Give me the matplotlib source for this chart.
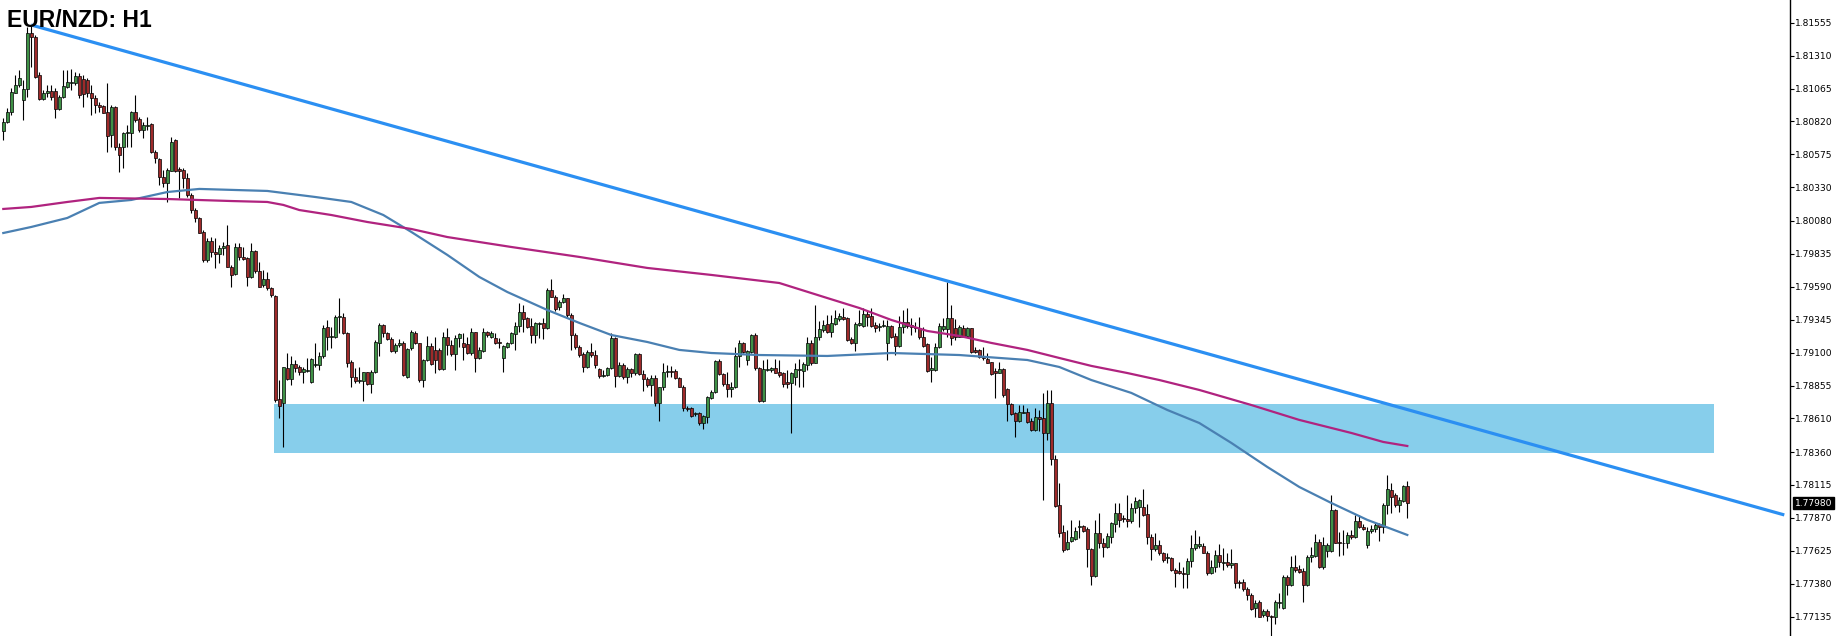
import numpy as np
import matplotlib
matplotlib.use("Agg")
from matplotlib import pyplot as plt
from matplotlib.patches import Rectangle
import matplotlib.transforms as mtransforms

# prices are stored in pips above 1.7700 (1 pip = 0.0001)
BASE = 1.7700
PIP = 0.0001

open_pips = [
    375.2, 381.9, 389.3, 403.5, 409.2, 398.0, 405.9, 447.6, 445.1, 416.6,
    398.7, 403.0, 404.9, 404.9, 391.1, 400.0, 407.9, 410.9, 410.9, 415.9,
    413.4, 412.9, 403.0, 399.2, 394.3, 393.5, 389.3, 372.0, 393.0, 363.3,
    362.8, 373.2, 373.7, 389.3, 383.6, 375.7, 378.7, 379.9, 359.6, 353.9,
    341.0, 336.0, 345.4, 368.2, 346.4, 345.9, 339.7, 327.3, 316.2, 310.0,
    300.1, 279.0, 293.1, 285.2, 283.4, 287.7, 290.1, 274.0, 268.6, 288.4,
    281.0, 280.2, 266.1, 285.9, 271.0, 260.1, 264.6, 257.9, 252.2, 175.3,
    172.3, 198.4, 190.2, 201.4, 199.1, 195.2, 196.6, 188.0, 200.6, 200.9,
    207.1, 228.9, 221.9, 221.9, 236.3, 236.8, 224.9, 203.3, 192.2, 189.0,
    189.2, 195.4, 186.5, 195.2, 217.5, 230.6, 224.4, 220.0, 211.5, 215.5,
    217.0, 192.2, 213.2, 224.9, 217.0, 189.7, 204.6, 215.0, 212.0, 212.0,
    197.6, 221.9, 215.7, 209.0, 221.2, 217.0, 216.5, 210.0, 225.1, 205.8,
    211.5, 225.6, 221.4, 221.2, 217.7, 205.8, 214.5, 217.0, 223.9, 229.9,
    240.5, 235.6, 229.9, 223.2, 231.3, 231.8, 228.1, 256.6, 251.7, 243.7,
    248.0, 250.4, 238.0, 223.2, 214.5, 209.0, 199.6, 210.8, 208.3, 197.6,
    192.7, 193.4, 198.4, 220.7, 192.9, 200.8, 191.7, 197.6, 195.1, 209.0,
    194.1, 190.2, 186.0, 190.9, 172.8, 184.2, 195.9, 196.6, 196.6, 190.9,
    184.7, 168.6, 168.6, 164.4, 164.9, 157.4, 162.4, 176.0, 181.0, 204.1,
    194.1, 186.5, 182.7, 184.2, 207.5, 217.0, 204.6, 210.8, 223.2, 198.4,
    174.1, 197.1, 197.1, 198.4, 195.9, 194.6, 188.4, 187.2, 192.2, 197.1,
    196.6, 200.8, 217.5, 202.6, 221.4, 226.9, 231.3, 225.6, 231.3, 234.8,
    236.8, 235.6, 219.9, 217.5, 230.6, 229.9, 238.8, 237.3, 230.6, 229.4,
    229.9, 217.5, 229.9, 222.4, 215.0, 228.9, 233.1, 230.6, 229.4, 228.1,
    221.9, 216.5, 197.1, 197.1, 214.0, 227.4, 227.4, 235.6, 228.1, 221.9,
    228.6, 222.4, 228.1, 212.0, 212.0, 206.5, 205.1, 203.3, 196.6, 195.1,
    197.6, 182.6, 171.5, 164.8, 159.3, 165.3, 166.0, 159.3, 152.4, 161.8,
    161.1, 150.4, 172.2, 130.6, 96.6, 76.8, 63.6, 70.1, 71.0, 80.0,
    81.0, 78.5, 63.6, 43.8, 75.5, 68.1, 65.1, 73.0, 82.5, 90.9,
    86.7, 85.9, 84.9, 94.1, 94.9, 95.4, 89.9, 72.5, 63.6, 66.8,
    60.6, 56.9, 56.9, 48.2, 47.7, 46.3, 45.3, 55.2, 64.4, 66.1,
    66.1, 61.1, 45.8, 50.2, 59.4, 53.7, 54.4, 52.0, 53.2, 39.6,
    39.6, 33.9, 29.6, 19.7, 24.7, 14.8, 18.0, 14.0, 13.0, 23.9,
    19.7, 42.8, 37.1, 50.7, 48.7, 47.7, 37.1, 57.7, 58.7, 69.3,
    50.7, 62.6, 62.6, 92.9, 69.3, 68.1, 68.1, 74.3, 72.5, 84.9,
    80.5, 66.8, 77.5, 78.5, 82.5, 80.5, 96.6, 107.8, 104.0, 96.6,
    99.8, 110.7,
]

close_pips = [
    381.9, 389.3, 404.2, 409.2, 414.1, 405.9, 447.6, 444.6, 415.4, 398.5,
    403.0, 404.9, 400.5, 391.3, 400.0, 408.4, 411.6, 411.6, 415.9, 401.7,
    402.2, 403.0, 399.7, 394.3, 392.5, 388.6, 371.2, 393.0, 363.3, 357.1,
    373.2, 374.2, 389.3, 383.1, 375.7, 379.4, 379.4, 359.6, 354.6, 341.0,
    336.0, 345.9, 367.0, 345.4, 345.4, 339.7, 327.3, 316.2, 310.0, 299.3,
    279.0, 293.1, 285.2, 283.4, 287.7, 289.4, 274.0, 267.8, 288.4, 281.0,
    280.0, 266.1, 285.9, 271.0, 259.1, 264.6, 257.9, 252.9, 174.8, 170.4,
    199.1, 190.2, 201.4, 198.9, 195.2, 197.6, 197.1, 205.3, 201.6, 207.6,
    228.1, 221.9, 222.4, 236.8, 237.3, 224.4, 202.6, 192.2, 188.5, 189.7,
    195.4, 186.5, 195.9, 217.7, 230.6, 224.4, 220.0, 211.5, 215.3, 217.0,
    193.0, 212.5, 225.6, 217.0, 189.7, 204.6, 215.0, 201.6, 204.6, 197.6,
    221.9, 215.7, 209.0, 220.7, 223.7, 214.5, 210.0, 225.1, 205.8, 212.0,
    225.6, 223.2, 224.9, 217.5, 217.0, 215.0, 217.0, 224.4, 229.9, 240.5,
    234.8, 229.4, 223.2, 232.3, 231.8, 228.1, 256.6, 251.7, 242.3, 248.0,
    250.4, 238.0, 223.2, 214.5, 208.3, 199.6, 210.8, 208.3, 200.8, 192.7,
    193.4, 198.4, 220.7, 192.9, 200.8, 192.2, 197.6, 194.6, 209.0, 194.1,
    190.2, 186.0, 190.9, 172.8, 184.2, 195.9, 196.6, 195.9, 190.9, 184.7,
    168.6, 167.9, 162.9, 164.9, 157.4, 162.9, 176.8, 181.0, 204.1, 194.1,
    186.5, 182.7, 184.2, 207.5, 217.0, 210.8, 211.5, 223.2, 198.4, 174.1,
    197.6, 197.6, 198.4, 195.1, 193.4, 186.7, 186.7, 194.6, 197.9, 197.6,
    201.6, 217.5, 202.1, 221.4, 227.4, 230.6, 225.6, 231.8, 235.6, 237.3,
    234.8, 219.4, 217.5, 231.3, 232.3, 238.8, 236.3, 229.9, 228.1, 229.9,
    230.6, 229.9, 221.9, 215.0, 229.4, 233.1, 229.9, 228.9, 228.1, 221.4,
    215.0, 196.6, 198.4, 214.5, 229.9, 229.9, 235.6, 220.7, 221.4, 228.9,
    221.9, 228.1, 210.8, 210.8, 206.5, 205.8, 202.6, 194.1, 195.1, 197.6,
    178.4, 171.7, 164.1, 159.3, 166.0, 166.0, 158.6, 152.4, 161.8, 160.3,
    150.4, 172.2, 130.6, 95.9, 76.0, 63.1, 68.8, 73.0, 77.5, 81.0,
    77.5, 63.6, 43.8, 75.5, 68.1, 65.1, 73.5, 83.0, 90.9, 85.4,
    85.9, 84.9, 94.1, 99.8, 100.3, 89.2, 72.5, 63.6, 66.8, 60.6,
    55.7, 57.7, 48.2, 46.3, 45.8, 45.3, 55.2, 64.4, 67.6, 67.6,
    61.1, 45.8, 50.2, 59.4, 54.4, 54.4, 52.0, 53.2, 38.3, 38.3,
    33.9, 29.6, 19.0, 23.9, 13.5, 18.0, 14.0, 13.0, 24.7, 24.7,
    42.8, 37.1, 50.7, 48.2, 47.0, 37.1, 58.2, 59.4, 69.3, 50.7,
    66.8, 66.8, 92.9, 68.6, 68.1, 68.6, 74.3, 72.5, 84.9, 80.0,
    78.5, 77.5, 78.5, 81.7, 80.5, 96.6, 108.3, 102.8, 96.6, 100.3,
    110.7, 98.4,
]

high_pips = [
    384.4, 391.8, 406.7, 416.6, 420.3, 412.9, 452.6, 453.8, 446.4, 419.1,
    405.4, 409.2, 409.2, 406.7, 401.7, 420.3, 420.3, 420.8, 419.1, 417.8,
    416.6, 414.1, 409.2, 401.7, 396.8, 394.3, 410.4, 394.3, 393.5, 365.8,
    374.4, 379.4, 390.0, 401.7, 385.6, 381.9, 385.6, 380.6, 360.8, 354.6,
    345.9, 347.2, 370.7, 368.7, 348.4, 347.2, 343.4, 328.6, 317.4, 311.2,
    301.3, 295.1, 296.3, 295.1, 290.1, 292.6, 305.0, 275.3, 291.4, 291.4,
    288.9, 281.5, 291.4, 286.4, 277.7, 271.5, 270.3, 259.1, 252.9, 189.7,
    199.6, 209.5, 207.1, 204.6, 200.9, 199.6, 205.8, 205.8, 217.0, 210.8,
    230.6, 234.3, 229.4, 238.1, 250.5, 239.8, 225.7, 204.6, 198.4, 199.6,
    195.9, 195.9, 197.1, 219.5, 232.4, 231.4, 225.7, 221.9, 217.0, 220.0,
    219.0, 213.2, 226.9, 226.1, 217.5, 205.1, 222.4, 217.0, 221.9, 213.2,
    225.6, 228.1, 219.4, 223.2, 224.9, 224.4, 221.9, 228.1, 225.6, 214.5,
    228.1, 226.4, 226.4, 224.4, 220.7, 215.7, 218.2, 225.6, 233.1, 246.7,
    245.5, 236.8, 235.6, 233.1, 233.1, 235.6, 257.9, 264.6, 252.9, 249.2,
    253.4, 250.9, 239.3, 224.4, 215.7, 210.8, 212.0, 217.0, 212.0, 198.4,
    197.1, 199.6, 224.4, 221.9, 203.3, 202.1, 199.6, 198.4, 209.5, 209.5,
    197.1, 192.2, 193.4, 193.4, 184.7, 202.6, 200.8, 200.1, 197.6, 192.2,
    186.0, 170.3, 169.8, 166.1, 166.1, 163.6, 177.8, 182.2, 204.6, 205.1,
    195.1, 195.9, 188.4, 214.5, 219.4, 218.2, 212.0, 223.9, 224.4, 199.6,
    204.6, 205.1, 199.6, 205.1, 204.6, 195.9, 197.1, 195.9, 202.1, 205.1,
    203.3, 221.9, 219.4, 245.5, 233.8, 234.3, 238.0, 238.0, 241.8, 239.8,
    243.0, 236.3, 221.4, 233.1, 241.8, 243.0, 241.8, 243.0, 233.1, 231.8,
    234.3, 234.3, 230.6, 224.4, 237.3, 241.8, 243.0, 235.6, 233.1, 236.3,
    229.4, 217.0, 207.0, 217.0, 231.8, 235.6, 262.8, 245.5, 234.8, 230.6,
    230.6, 229.4, 228.6, 214.5, 212.5, 214.5, 209.5, 203.3, 198.4, 203.3,
    198.4, 183.5, 172.2, 166.0, 171.0, 171.0, 168.5, 161.1, 168.5, 167.3,
    179.7, 182.2, 182.2, 133.8, 112.7, 81.7, 78.0, 85.4, 80.5, 85.4,
    81.7, 80.5, 64.4, 85.4, 90.4, 71.8, 75.5, 84.2, 98.4, 97.8,
    89.2, 104.0, 98.4, 102.3, 100.8, 108.3, 97.3, 75.0, 76.0, 70.5,
    61.9, 60.6, 57.7, 49.5, 54.4, 50.7, 56.9, 74.3, 78.0, 73.5,
    68.1, 62.6, 55.7, 63.1, 67.6, 64.4, 60.6, 63.6, 53.7, 40.8,
    41.3, 35.8, 30.9, 25.9, 25.9, 19.0, 19.0, 14.8, 25.9, 30.9,
    44.5, 44.5, 58.7, 59.4, 52.0, 49.5, 59.4, 65.6, 75.0, 71.0,
    73.0, 68.1, 104.0, 93.4, 76.8, 78.0, 76.8, 78.0, 89.2, 89.2,
    82.5, 80.5, 81.7, 83.0, 83.0, 97.8, 118.9, 112.7, 105.3, 102.8,
    111.5, 114.7,
]

low_pips = [
    368.2, 380.6, 386.8, 403.0, 407.9, 383.1, 400.5, 422.8, 414.1, 398.0,
    398.0, 400.5, 398.0, 384.4, 390.6, 399.2, 406.7, 405.4, 409.2, 399.2,
    393.0, 400.5, 386.8, 388.1, 389.3, 388.1, 359.6, 363.3, 360.8, 344.7,
    347.2, 363.3, 363.3, 381.9, 374.4, 369.5, 375.7, 358.3, 350.9, 334.8,
    333.5, 322.4, 344.8, 344.7, 324.8, 332.3, 326.1, 313.7, 307.5, 298.8,
    277.7, 277.7, 281.5, 272.8, 276.5, 282.7, 273.5, 259.1, 267.8, 279.0,
    279.0, 259.6, 265.3, 269.1, 258.6, 259.1, 256.7, 251.7, 173.6, 161.2,
    140.1, 189.7, 186.0, 195.9, 193.4, 187.2, 195.9, 187.2, 199.6, 197.1,
    205.8, 212.0, 213.3, 220.7, 224.4, 223.9, 199.6, 184.7, 187.2, 187.2,
    174.3, 186.0, 179.8, 194.7, 207.1, 221.9, 219.5, 210.8, 210.0, 214.0,
    192.5, 190.9, 212.0, 216.5, 188.4, 184.7, 204.1, 200.8, 194.6, 197.1,
    197.1, 208.3, 207.5, 197.1, 214.5, 204.6, 209.0, 208.3, 195.9, 205.1,
    210.8, 221.9, 220.7, 216.5, 213.2, 195.9, 213.2, 216.5, 212.0, 225.6,
    225.6, 228.1, 217.5, 217.5, 220.7, 219.9, 227.4, 251.2, 241.3, 241.8,
    246.7, 236.8, 212.0, 212.5, 207.0, 195.9, 198.4, 207.0, 198.4, 190.9,
    192.2, 192.7, 197.6, 184.7, 192.2, 190.2, 187.7, 192.2, 193.4, 193.4,
    181.7, 184.7, 177.8, 170.3, 159.4, 182.2, 192.2, 192.2, 190.2, 184.2,
    166.9, 166.9, 162.4, 162.9, 156.2, 153.0, 157.9, 175.3, 180.3, 193.4,
    185.2, 176.8, 176.8, 183.5, 199.6, 209.5, 200.8, 210.0, 197.1, 173.6,
    173.6, 196.6, 195.9, 194.6, 192.2, 184.7, 183.5, 150.0, 186.0, 184.7,
    184.7, 197.1, 200.8, 202.1, 219.4, 225.6, 224.9, 221.9, 230.6, 233.8,
    234.3, 218.9, 216.5, 211.5, 229.9, 229.4, 229.9, 229.4, 225.6, 226.4,
    229.4, 204.6, 220.7, 208.3, 214.5, 224.4, 228.1, 223.2, 225.6, 219.9,
    214.5, 195.9, 188.4, 196.6, 213.2, 226.4, 221.9, 215.7, 219.4, 221.4,
    221.4, 221.4, 210.0, 210.0, 205.8, 204.6, 202.1, 193.4, 176.0, 194.6,
    177.2, 159.3, 163.6, 146.9, 158.6, 164.8, 157.9, 151.9, 151.9, 151.9,
    100.3, 145.0, 126.4, 95.4, 73.0, 61.9, 63.1, 69.3, 70.5, 71.8,
    76.8, 50.7, 37.1, 43.3, 64.4, 58.2, 64.4, 68.1, 76.8, 80.5,
    84.2, 80.5, 83.0, 90.4, 80.5, 88.4, 67.6, 55.7, 62.6, 59.4,
    54.4, 53.7, 47.7, 35.3, 45.3, 34.6, 34.6, 50.7, 63.1, 64.4,
    60.6, 44.5, 45.3, 47.0, 50.7, 48.2, 50.7, 49.5, 34.6, 34.6,
    32.9, 25.9, 18.5, 13.5, 13.0, 13.5, 10.5, -0.9, 8.1, 19.7,
    19.0, 29.6, 36.3, 47.0, 45.8, 24.7, 36.3, 54.4, 58.2, 49.5,
    48.7, 58.2, 61.9, 68.1, 58.7, 59.4, 64.4, 71.0, 71.8, 79.3,
    78.0, 64.4, 75.5, 76.8, 70.1, 76.0, 89.9, 90.4, 95.4, 91.6,
    99.1, 86.7,
]

# moving averages, sampled along the bar index
ma_fast_idx = [0, 7, 16, 24, 32, 41, 49, 66, 78, 87, 95, 102, 111, 119, 126, 136, 144,
               152, 161, 169, 177, 189, 206, 222, 239, 256, 264, 272, 282, 291, 299,
               307, 316, 324, 332, 341, 351]
ma_fast_pips = [299.0, 303.5, 310.2, 321.4, 323.6, 329.5, 331.8, 330.3, 325.8, 322.1,
                312.4, 299.8, 282.7, 266.3, 255.1, 241.7, 232.1, 223.1, 217.9, 212.0,
                209.7, 208.2, 207.5, 209.7, 208.2, 204.5, 199.3, 189.6, 180.0, 167.3,
                157.6, 142.8, 124.9, 110.0, 98.1, 85.5, 74.3]

ma_slow_idx = [0, 7, 16, 24, 41, 57, 66, 70, 74, 82, 91, 102, 111, 127, 144, 161, 177,
               194, 206, 214, 222, 231, 239, 247, 256, 264, 272, 281, 289, 299, 312,
               324, 337, 345, 351]
ma_slow_pips = [316.9, 318.4, 322.1, 325.1, 324.3, 322.8, 322.1, 319.9, 316.1, 312.4,
                307.2, 302.0, 296.0, 288.6, 281.2, 273.0, 267.8, 261.8, 250.6, 243.2,
                234.3, 226.1, 222.4, 217.2, 212.0, 206.0, 200.1, 194.8, 189.6, 182.2,
                171.0, 159.9, 150.2, 143.5, 140.5]

trend_idx = [7, 445.25]
trend_price = [1.81538, 1.77892]

zone_idx = [67.75, 427.75]
zone_price = [1.78353, 1.78718]

price_ticks = [1.81555, 1.81310, 1.81065, 1.80820, 1.80575, 1.80330, 1.80080, 1.79835,
               1.79590, 1.79345, 1.79100, 1.78855, 1.78610, 1.78360, 1.78115, 1.77870,
               1.77625, 1.77380, 1.77135]
last_price = 1.77980

# ---- convert
o = BASE + np.array(open_pips) * PIP
c = BASE + np.array(close_pips) * PIP
hi = BASE + np.array(high_pips) * PIP
lo = BASE + np.array(low_pips) * PIP
hi = np.maximum(hi, np.maximum(o, c))
lo = np.minimum(lo, np.minimum(o, c))
idx = np.arange(len(o))

fig = plt.figure(figsize=(18.36, 6.36), dpi=100)
fig.patch.set_facecolor("white")
ax = fig.add_axes([0, 0, 1790 / 1836, 1])
ax.set_facecolor("white")

# support zone
ax.add_patch(Rectangle((zone_idx[0], zone_price[0]), zone_idx[1] - zone_idx[0],
                       zone_price[1] - zone_price[0], facecolor="#87ceeb",
                       edgecolor="none", zorder=1))

# candles
up = c >= o
body_col = np.where(up, "#3f9146", "#9e2a2a")
ax.vlines(idx, lo, hi, color="black", lw=0.8, zorder=3)
body_h = np.maximum(np.abs(c - o), 0.5 * PIP)
ax.bar(idx, body_h, bottom=np.minimum(o, c), width=0.62, color=body_col,
       edgecolor="black", linewidth=0.5, zorder=4)

# moving averages
ax.plot(ma_fast_idx, BASE + np.array(ma_fast_pips) * PIP, color="#4a80b2", lw=1.6, zorder=5)
ax.plot(ma_slow_idx, BASE + np.array(ma_slow_pips) * PIP, color="#b0237f", lw=1.6, zorder=5)

# trendline
ax.plot(trend_idx, trend_price, color="#2b8ff2", lw=2.3, solid_capstyle="butt", zorder=6)

ax.set_xlim(-0.825, 446.675)
ax.set_ylim(1.76991, 1.81724)

for s in ["left", "top", "bottom"]:
    ax.spines[s].set_visible(False)
ax.spines["right"].set_color("black")
ax.spines["right"].set_linewidth(1.0)
ax.set_xticks([])
ax.yaxis.tick_right()
ax.set_yticks(price_ticks)
ax.set_yticklabels([f"{t:.5f}" for t in price_ticks])
ax.tick_params(axis="y", direction="out", length=2.9, width=0.8, colors="black",
               labelsize=6.6, pad=1.0)

# current price marker
trans = mtransforms.blended_transform_factory(ax.transAxes, ax.transData)
ax.text(1.0 + 5 / 1790, last_price, "1.77980", transform=trans, ha="left", va="center",
        color="white", fontsize=6.6, zorder=10, clip_on=False,
        bbox=dict(facecolor="black", edgecolor="black", boxstyle="square,pad=0.2"))

fig.text(7 / 1836, 1 - 27 / 636, "EUR/NZD: H1", fontsize=16.5, fontweight="bold",
         family=["Liberation Sans", "DejaVu Sans"], va="baseline", ha="left", color="black")

fig.savefig("out.png", dpi=100, facecolor="white")
